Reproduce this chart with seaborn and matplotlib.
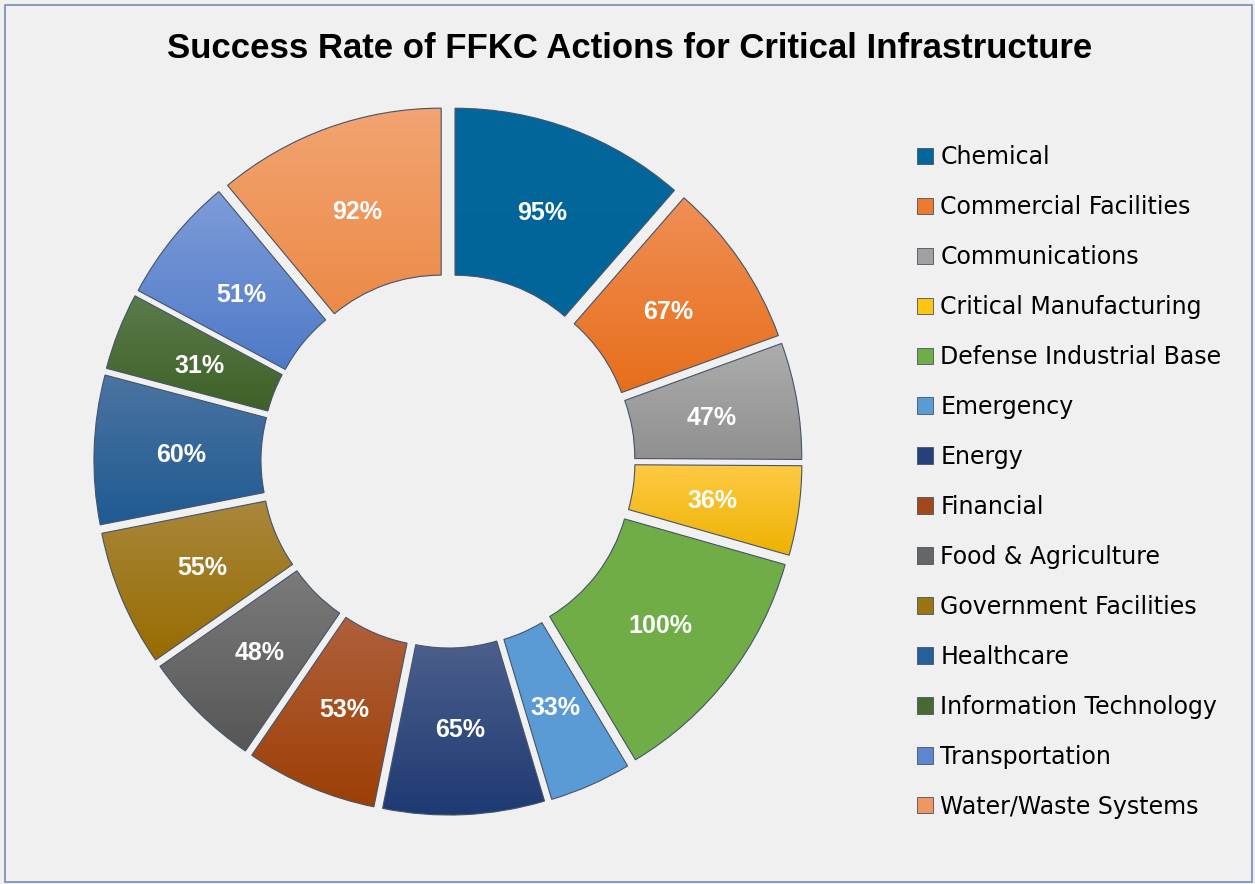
import numpy as np
import matplotlib
matplotlib.use("Agg")
import matplotlib.pyplot as plt
import seaborn as sns
from matplotlib.colors import LinearSegmentedColormap
from matplotlib.patches import Rectangle

# --- data ---
sectors = [
    "Chemical", "Commercial Facilities", "Communications", "Critical Manufacturing",
    "Defense Industrial Base", "Emergency", "Energy", "Financial",
    "Food & Agriculture", "Government Facilities", "Healthcare",
    "Information Technology", "Transportation", "Water/Waste Systems",
]
success_rate = [95, 67, 47, 36, 100, 33, 65, 53, 48, 55, 60, 31, 51, 92]

# slice colours (top of gradient / bottom of gradient / legend swatch)
top_colors = ["#02679B", "#F08E56", "#ADADAD", "#FFCA45", "#70AD47", "#5B9BD5",
              "#4C5F8C", "#AF603C", "#7B7B7B", "#A9873C", "#4B74A1", "#5C7B4C",
              "#7E9CD8", "#F2A472"]
bottom_colors = ["#02659A", "#E76F1A", "#909090", "#EDB200", "#70AD47", "#5B9BD5",
                 "#1E3A73", "#9D3F05", "#565656", "#976C00", "#1F5A92", "#3D6126",
                 "#4F7AC8", "#EC8A47"]
legend_colors = ["#02669A", "#EE7A2D", "#A0A0A0", "#FFC513", "#70AD47", "#5B9BD5",
                 "#25407A", "#A3481A", "#666666", "#9A7410", "#25609A", "#466A30",
                 "#5E86CE", "#F09660"]

bg = "#F0F0F0"
sns.set_theme(style="white")
plt.rcParams["font.family"] = ["Liberation Sans", "DejaVu Sans"]
plt.rcParams["text.color"] = "black"

W, H = 1255, 884
fig = plt.figure(figsize=(W / 100, H / 100), dpi=100, facecolor=bg)

# donut centred at (448, 461) px, outer radius ~334 px
R = 334
cx, cy, half = 448, 461, 400
ax = fig.add_axes([(cx - half) / W, (H - cy - half) / H, 2 * half / W, 2 * half / H])
ax.set_facecolor(bg)
lim = half / R

wedges, texts = ax.pie(
    success_rate,
    labels=[f"{v}%" for v in success_rate],
    startangle=90,
    counterclock=False,
    radius=1,
    explode=[0.06] * len(success_rate),
    labeldistance=0.74,
    wedgeprops=dict(width=0.5, edgecolor="#44546A", linewidth=0.8),
)

# vertical gradient inside each slice
grad = np.linspace(0, 1, 256).reshape(-1, 1)
for w, c_top, c_bot in zip(wedges, top_colors, bottom_colors):
    w.set_facecolor("none")
    bb = w.get_path().get_extents()
    cmap = LinearSegmentedColormap.from_list("g", [c_bot, c_top])
    im = ax.imshow(grad, cmap=cmap, extent=[bb.x0, bb.x1, bb.y0, bb.y1],
                   origin="lower", aspect="auto", zorder=0.5, interpolation="bilinear")
    im.set_clip_path(w)

for t in texts:
    t.set_ha("center")
    t.set_va("center_baseline")
    t.set_color("white")
    t.set_fontweight("bold")
    t.set_fontsize(18)

ax.set_xlim(-lim, lim)
ax.set_ylim(-lim, lim)
ax.set_aspect("auto")
ax.axis("off")

# legend
handles = [Rectangle((0, 0), 1, 1, facecolor=c, edgecolor="#44546A", linewidth=0.6)
           for c in legend_colors]
fig.legend(handles, sectors, loc="upper left", bbox_to_anchor=(917 / W, 1 - 145 / H),
           frameon=False, handlelength=0.68, handleheight=0.68,
           handletextpad=0.3, labelspacing=1.10, borderpad=0, borderaxespad=0,
           prop={"family": ["DejaVu Sans"], "size": 17})

fig.text(630 / W, 1 - 49 / H, "Success Rate of FFKC Actions for Critical Infrastructure",
         ha="center", va="center", fontsize=25, fontweight="bold", color="black")

# chart frame
fig.patches.append(Rectangle((5 / W, 2 / H), (1252 - 5) / W, (879 - 2) / H,
                             transform=fig.transFigure, fill=False,
                             edgecolor="#7F95B5", linewidth=1.3))

fig.savefig("out.png", dpi=100, facecolor=bg)
